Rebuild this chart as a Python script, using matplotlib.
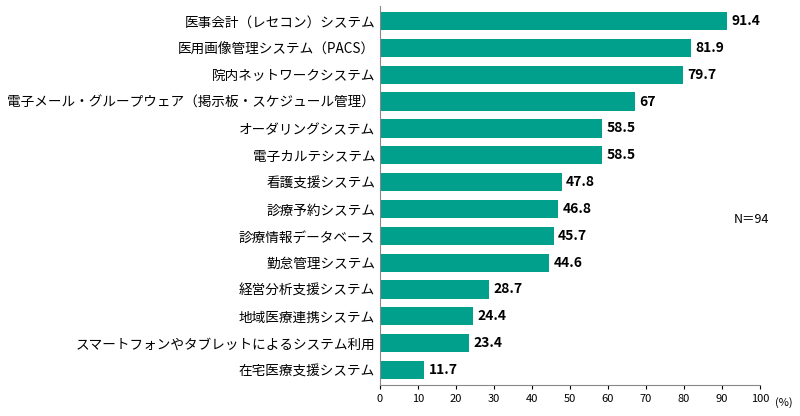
import matplotlib.pyplot as plt

plt.rcParams['font.family'] = ['Noto Sans CJK JP', 'DejaVu Sans']

labels=["医事会計（レセコン）システム","医用画像管理システム（PACS）","院内ネットワークシステム",
        "電子メール・グループウェア（掲示板・スケジュール管理）","オーダリングシステム","電子カルテシステム",
        "看護支援システム","診療予約システム","診療情報データベース","勤怠管理システム",
        "経営分析支援システム","地域医療連携システム","スマートフォンやタブレットによるシステム利用","在宅医療支援システム"]
values=[91.4,81.9,79.7,67,58.5,58.5,47.8,46.8,45.7,44.6,28.7,24.4,23.4,11.7]
value_text=["91.4","81.9","79.7","67","58.5","58.5","47.8","46.8","45.7","44.6","28.7","24.4","23.4","11.7"]

plt.figure(figsize=(8,4.16), dpi=100)
plt.subplots_adjust(left=0.475, right=0.95, top=0.985, bottom=0.075)
pos=range(len(labels))
plt.barh(pos, values, height=0.68, color='#00a08c')
for i in pos:
    plt.text(values[i]+1.2, i, value_text[i], va='center', ha='left', fontsize=10, fontweight='bold')
plt.yticks(pos, labels, fontsize=9.8)
plt.ylim(len(labels)-0.45, -0.55)
plt.xlim(0,100)
plt.xticks(range(0,101,10), fontsize=8)
plt.text(104, 14.2, "(%)", fontsize=8, va='center')
plt.text(93, 7.4, "N＝94", fontsize=9, va='center')
ax=plt.gca()
ax.spines['top'].set_visible(False)
ax.spines['right'].set_visible(False)
ax.tick_params(axis='y', length=0)
ax.tick_params(axis='x', length=3)
ax.spines['left'].set_color('#888888')
ax.spines['bottom'].set_color('#888888')
plt.savefig('out.png')
